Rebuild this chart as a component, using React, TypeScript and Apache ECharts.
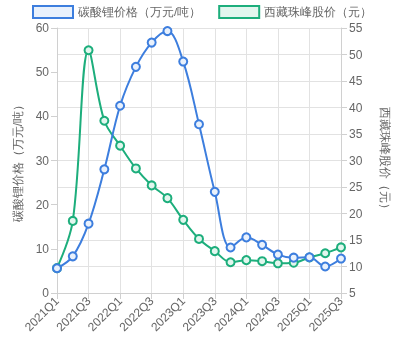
import React, { useEffect, useRef } from "react";
import * as echarts from "echarts";

const categories = [
  "2021Q1", "2021Q2", "2021Q3", "2021Q4",
  "2022Q1", "2022Q2", "2022Q3", "2022Q4",
  "2023Q1", "2023Q2", "2023Q3", "2023Q4",
  "2024Q1", "2024Q2", "2024Q3", "2024Q4",
  "2025Q1", "2025Q2", "2025Q3",
];
const lithiumPrice = [5.6, 8.3, 15.7, 28, 42.4, 51.2, 56.7, 59.3, 52.4, 38.2, 22.9, 10.3, 12.6, 10.9, 8.7, 8.0, 8.1, 6.0, 7.8];
const stockPrice = [9.7, 18.6, 50.8, 37.5, 32.8, 28.5, 25.3, 22.9, 18.8, 15.2, 12.9, 10.8, 11.2, 11.0, 10.6, 10.7, 11.7, 12.5, 13.6];

const BLUE = "#3d7ede";
const GREEN = "#1dae7c";
const FONT = "Liberation Sans, Arial, sans-serif";

export default function App() {
  const ref = useRef<HTMLDivElement>(null);
  useEffect(() => {
    if (!ref.current) return;
    const chart = echarts.init(ref.current, undefined, { renderer: "svg" });
    chart.setOption({
      animation: false,
      textStyle: { fontFamily: FONT },
      legend: {
        top: 5,
        left: 32,
        itemWidth: 40,
        itemHeight: 12,
        itemGap: 17,
        padding: 0,
        icon: "rect",
        textStyle: { color: "#666", fontSize: 11.5, fontFamily: FONT, lineHeight: 13 },
        data: [
          { name: "碳酸锂价格（万元/吨）", itemStyle: { color: "#e9f1fc", borderColor: BLUE, borderWidth: 2 } },
          { name: "西藏珠峰股价（元）", itemStyle: { color: "#e2f6ee", borderColor: GREEN, borderWidth: 2 } },
        ],
      },
      grid: { left: 57, right: 61, top: 28, bottom: 66, containLabel: false },
      xAxis: {
        type: "category",
        data: categories,
        boundaryGap: false,
        axisLine: { show: true, lineStyle: { color: "#d0d0d0" } },
        axisTick: { show: true, interval: 1, length: 6, lineStyle: { color: "#d0d0d0" } },
        splitLine: { show: true, interval: 1, lineStyle: { color: "#e2e2e2" } },
        axisLabel: { interval: 1, rotate: 45, color: "#666", fontSize: 12, fontFamily: FONT, margin: 6 },
      },
      yAxis: [
        {
          type: "value",
          min: 0,
          max: 60,
          interval: 10,
          position: "left",
          name: "碳酸锂价格（万元/吨）",
          nameLocation: "middle",
          nameGap: 33,
          nameTextStyle: { color: "#666", fontSize: 12, fontFamily: FONT },
          axisLine: { show: true, lineStyle: { color: "#d0d0d0" } },
          axisTick: { show: true, length: 6, lineStyle: { color: "#d0d0d0" } },
          splitLine: { show: false },
          axisLabel: { color: "#666", fontSize: 12, fontFamily: FONT, margin: 8 },
        },
        {
          type: "value",
          min: 5,
          max: 55,
          interval: 5,
          position: "right",
          name: "西藏珠峰股价（元）",
          nameLocation: "middle",
          nameRotate: -90,
          nameGap: 38,
          nameTextStyle: { color: "#666", fontSize: 12, fontFamily: FONT },
          axisLine: { show: true, lineStyle: { color: "#d0d0d0" } },
          axisTick: { show: true, length: 6, lineStyle: { color: "#d0d0d0" } },
          splitLine: { show: true, lineStyle: { color: "#e2e2e2" } },
          axisLabel: { color: "#666", fontSize: 12, fontFamily: FONT, margin: 8 },
        },
      ],
      series: [
        {
          name: "碳酸锂价格（万元/吨）",
          type: "line",
          yAxisIndex: 0,
          data: lithiumPrice,
          smooth: 0.35,
          symbol: "circle",
          symbolSize: 8,
          lineStyle: { color: BLUE, width: 2 },
          itemStyle: { color: "#e9f1fc", borderColor: BLUE, borderWidth: 2 },
          z: 3,
        },
        {
          name: "西藏珠峰股价（元）",
          type: "line",
          yAxisIndex: 1,
          data: stockPrice,
          smooth: 0.35,
          symbol: "circle",
          symbolSize: 8,
          lineStyle: { color: GREEN, width: 2 },
          itemStyle: { color: "#e2f6ee", borderColor: GREEN, borderWidth: 2 },
          z: 2,
        },
      ],
    });
    return () => chart.dispose();
  }, []);
  return <div ref={ref} style={{ position: "fixed", left: 0, top: 0, width: 402, height: 359 }} />;
}
